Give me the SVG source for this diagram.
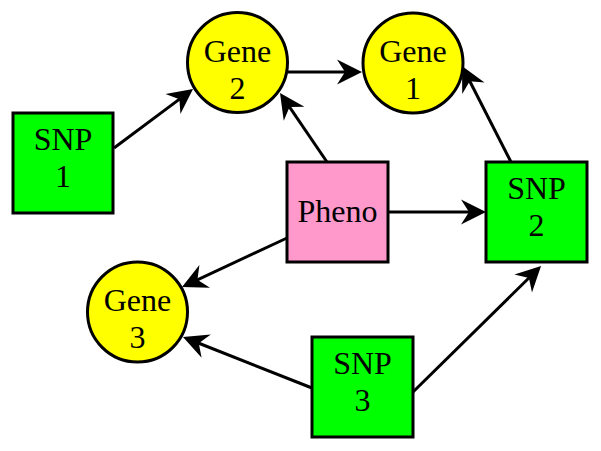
<svg xmlns="http://www.w3.org/2000/svg" width="601" height="451" viewBox="0 0 601 451">
<style>
.node{stroke:#000;stroke-width:3}
.snp{fill:#00ff00}
.gene{fill:#ffff00}
.pheno{fill:#ff99cc}
text{font-family:"Liberation Serif","Times New Roman",serif;font-size:32px;fill:#000;text-anchor:middle}
.edge{stroke:#000;stroke-width:3;fill:none;marker-end:url(#ah)}
</style>
<defs>
<marker id="ah" markerUnits="userSpaceOnUse" viewBox="-16 -14 28 28" markerWidth="28" markerHeight="28" refX="0" refY="0" orient="auto">
<path d="M11,0 L-14,-12.5 L-6,0 L-14,12.5 Z" fill="#000"/>
</marker>
</defs>
<rect width="601" height="451" fill="#fff"/>
<g id="snp1"><rect class="node snp" x="13" y="113" width="100" height="100"/><text x="63" y="150">SNP</text><text x="63" y="187">1</text></g>
<g id="gene2"><circle class="node gene" cx="237.5" cy="62.5" r="50"/><text x="237.5" y="62">Gene</text><text x="237.5" y="99">2</text></g>
<g id="gene1"><circle class="node gene" cx="413" cy="63" r="50"/><text x="413" y="62">Gene</text><text x="413" y="99">1</text></g>
<g id="pheno"><rect class="node pheno" x="287" y="162" width="101" height="100"/><text x="337.5" y="222">Pheno</text></g>
<g id="snp2"><rect class="node snp" x="486" y="162" width="101" height="100"/><text x="536.5" y="199">SNP</text><text x="536.5" y="236">2</text></g>
<g id="gene3"><circle class="node gene" cx="137.5" cy="312" r="50"/><text x="137.5" y="311">Gene</text><text x="137.5" y="348">3</text></g>
<g id="snp3"><rect class="node snp" x="312" y="337" width="101" height="100"/><text x="362.5" y="374">SNP</text><text x="362.5" y="411">3</text></g>
<g id="connectors">
<path class="edge" d="M114,148 L184.2,95.6"/>
<path class="edge" d="M288,72 L351,72"/>
<path class="edge" d="M327,162 L286.2,102.1"/>
<path class="edge" d="M511,162 L467,75.8"/>
<path class="edge" d="M388,212 L475,212"/>
<path class="edge" d="M287,238 L192,282.3"/>
<path class="edge" d="M312,388 L193.2,341"/>
<path class="edge" d="M413,392 L533.2,273.7"/>
</g>
</svg>
